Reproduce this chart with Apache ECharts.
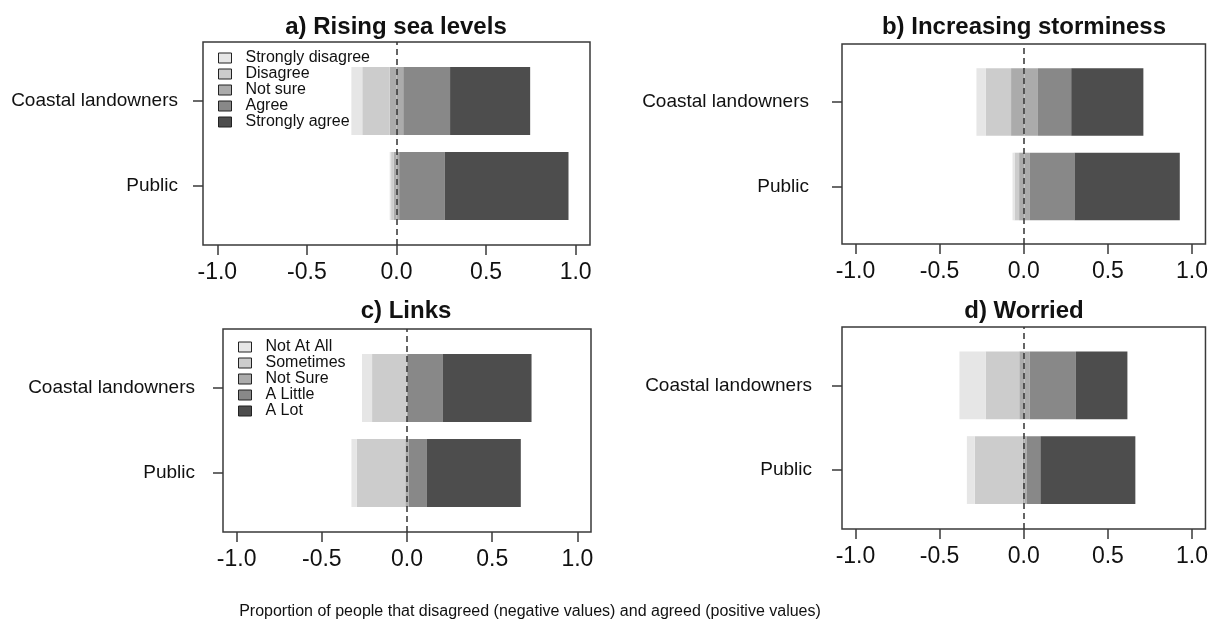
<!DOCTYPE html>
<html><head><meta charset="utf-8">
<script src="https://cdn.jsdelivr.net/npm/echarts@6/dist/echarts.min.js"></script>
<style>html,body{margin:0;padding:0;background:#fff}#c{width:1211px;height:627px}</style>
</head><body><div id="c"></div>
<script>
// ---- data ----
const groups = ['Coastal landowners', 'Public'];
const tickValues = [-1, -0.5, 0, 0.5, 1];
const agreeLabels = ['Strongly disagree', 'Disagree', 'Not sure', 'Agree', 'Strongly agree'];
const freqLabels = ['Not At All', 'Sometimes', 'Not Sure', 'A Little', 'A Lot'];
const panelTitles = ['a) Rising sea levels', 'b) Increasing storminess', 'c) Links', 'd) Worried'];
const xTitle = 'Proportion of people that disagreed (negative values) and agreed (positive values)';

// proportions: [Coastal landowners, Public]
const seaStronglyDisagree = [0.061, 0.008];
const seaDisagree         = [0.153, 0.015];
const seaNotSure          = [0.076, 0.030];
const seaAgree            = [0.261, 0.255];
const seaStronglyAgree    = [0.447, 0.690];

const stormStronglyDisagree = [0.056, 0.012];
const stormDisagree         = [0.149, 0.027];
const stormNotSure          = [0.159, 0.064];
const stormAgree            = [0.197, 0.264];
const stormStronglyAgree    = [0.427, 0.623];

const linksNotAtAll  = [0.059, 0.032];
const linksSometimes = [0.203, 0.284];
const linksNotSure   = [0.004, 0.020];
const linksALittle   = [0.209, 0.107];
const linksALot      = [0.520, 0.551];

const worriedNotAtAll  = [0.155, 0.047];
const worriedSometimes = [0.199, 0.282];
const worriedNotSure   = [0.062, 0.024];
const worriedALittle   = [0.273, 0.082];
const worriedALot      = [0.305, 0.562];

const colors = ['#e6e6e6', '#cccccc', '#ababab', '#888888', '#4d4d4d'];

// ---- layout ----
const panels = [
  { title: panelTitles[0], names: agreeLabels, vals: [seaStronglyDisagree, seaDisagree, seaNotSure, seaAgree, seaStronglyAgree],
    frame: {left: 203, top: 42, width: 387, height: 203}, bars: {top: 58.5, height: 170}, labelMargin: 25, titleX: 396, titleY: 27 },
  { title: panelTitles[1], names: agreeLabels, vals: [stormStronglyDisagree, stormDisagree, stormNotSure, stormAgree, stormStronglyAgree],
    frame: {left: 842, top: 44, width: 365, height: 200}, bars: {top: 59.75, height: 169}, labelMargin: 33, titleX: 1024, titleY: 27 },
  { title: panelTitles[2], names: freqLabels, vals: [linksNotAtAll, linksSometimes, linksNotSure, linksALittle, linksALot],
    frame: {left: 223, top: 329, width: 368, height: 203}, bars: {top: 345.5, height: 170}, labelMargin: 28, titleX: 406, titleY: 311 },
  { title: panelTitles[3], names: freqLabels, vals: [worriedNotAtAll, worriedSometimes, worriedNotSure, worriedALittle, worriedALot],
    frame: {left: 842, top: 327, width: 365, height: 202}, bars: {top: 343, height: 169.4}, labelMargin: 30, titleX: 1024, titleY: 311 }
];

const FONT = 'Liberation Sans, Arial, sans-serif';
const grid = [], xAxis = [], yAxis = [], series = [], graphic = [];

panels.forEach((p, i) => {
  const fi = i * 2, bi = i * 2 + 1;
  grid.push({ left: p.frame.left, top: p.frame.top, width: p.frame.width, height: p.frame.height,
    show: true, borderColor: '#3a3a3a', borderWidth: 1.5, backgroundColor: 'transparent', z: 5 });
  grid.push({ left: p.frame.left, top: p.bars.top, width: p.frame.width, height: p.bars.height });
  xAxis.push({ gridIndex: fi, type: 'value', min: -1.08, max: 1.08,
    axisLine: { show: false, onZero: false }, splitLine: { show: false },
    axisTick: { show: true, customValues: tickValues, length: 10, lineStyle: { color: '#3a3a3a', width: 1.5 } },
    axisLabel: { customValues: tickValues, formatter: v => v.toFixed(1), fontSize: 23, color: '#111', fontFamily: FONT, margin: 16 } });
  xAxis.push({ gridIndex: bi, type: 'value', min: -1.08, max: 1.08, show: false });
  yAxis.push({ gridIndex: fi, type: 'value', min: 0, max: 1, show: false });
  yAxis.push({ gridIndex: bi, type: 'category', data: groups, inverse: true, position: 'left',
    axisLine: { show: false, onZero: false }, splitLine: { show: false },
    axisTick: { show: true, alignWithLabel: true, length: 10, lineStyle: { color: '#3a3a3a', width: 1.5 } },
    axisLabel: { fontSize: 19, color: '#111', fontFamily: FONT, margin: p.labelMargin } });

  const [sd, d, ns, a, sa] = p.vals;
  const stack = 'st' + i;
  const mk = (name, data, color) => ({
    type: 'bar', name, stack, data, xAxisIndex: bi, yAxisIndex: bi, barWidth: '80%',
    itemStyle: { color }, emphasis: { disabled: true }, animation: false
  });
  series.push(mk(p.names[2], ns.map(v => -v / 2), colors[2]));
  series.push(mk(p.names[1], d.map(v => -v), colors[1]));
  series.push(mk(p.names[0], sd.map(v => -v), colors[0]));
  series.push(mk(p.names[2], ns.map(v => v / 2), colors[2]));
  series.push(mk(p.names[3], a, colors[3]));
  series.push(mk(p.names[4], sa, colors[4]));
  // dashed zero line over the full box
  series.push({ type: 'line', data: [], xAxisIndex: fi, yAxisIndex: fi, z: 10, silent: true, animation: false,
    markLine: { silent: true, symbol: ['none', 'none'], label: { show: false }, animation: false,
      lineStyle: { color: '#333', type: [6, 4], width: 1.5 }, data: [{ xAxis: 0 }] } });

  graphic.push({ type: 'text', x: p.titleX, y: p.titleY,
    style: { text: p.title, font: 'bold 24px ' + FONT, fill: '#111', textAlign: 'center', textVerticalAlign: 'middle' } });
});

graphic.push({ type: 'text', x: 530, y: 612,
  style: { text: xTitle, font: '16px ' + FONT, fill: '#111', textAlign: 'center', textVerticalAlign: 'middle' } });

const legendCommon = {
  orient: 'vertical', icon: 'rect', itemWidth: 13, itemHeight: 10, itemGap: 0,
  itemStyle: { borderColor: '#222', borderWidth: 1 },
  textStyle: { fontSize: 16, lineHeight: 14, color: '#111', fontFamily: FONT, padding: [0, 0, 0, 9] },
  selectedMode: false, padding: 0
};
const legend = [
  Object.assign({}, legendCommon, { left: 218, top: 50, data: agreeLabels }),
  Object.assign({}, legendCommon, { left: 238, top: 339, data: freqLabels })
];

const chart = echarts.init(document.getElementById('c'), null, { renderer: 'canvas' });
chart.setOption({ backgroundColor: '#fff', animation: false, grid, xAxis, yAxis, series, legend, graphic });
</script>
</body></html>
